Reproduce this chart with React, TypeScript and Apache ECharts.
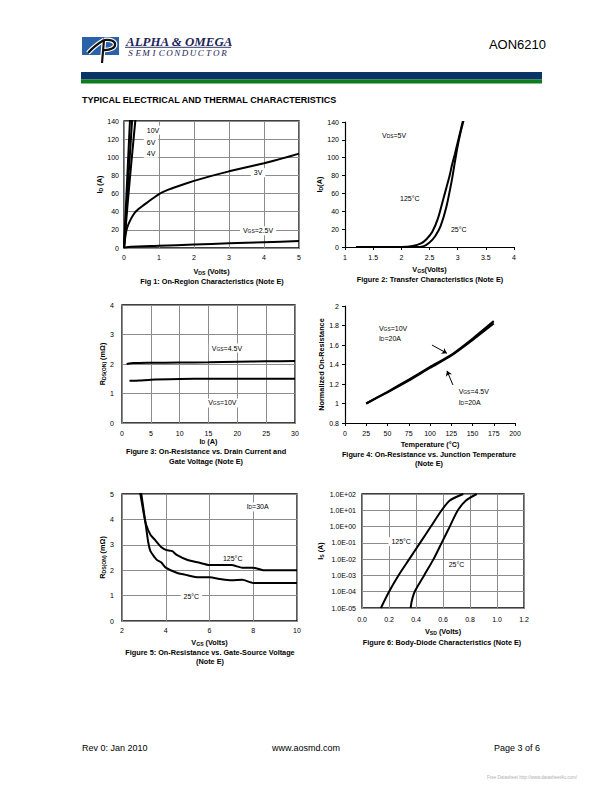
import React, { useEffect, useRef } from "react";
import * as echarts from "echarts";

const FONT = '"Liberation Sans", Arial, Helvetica, sans-serif';
const SERIF = '"Liberation Serif", "Times New Roman", serif';

// ---------- Figure 1: On-Region Characteristics ----------
const fig1Vgs10: number[][] = [[0, 0], [0.06, 50], [0.12, 100], [0.18, 148]];
const fig1Vgs6: number[][] = [[0, 0], [0.08, 50], [0.16, 98], [0.24, 146]];
const fig1Vgs4: number[][] = [[0, 0], [0.1, 47], [0.2, 90], [0.33, 143]];
const fig1Vgs3: number[][] = [[0, 0], [0.02, 7], [0.04, 13], [0.07, 19.5], [0.11, 24.5], [0.16, 29], [0.22, 33.5], [0.31, 39], [0.4, 42.5], [0.5, 45.5], [0.64, 49.5], [0.8, 54], [1, 59.5], [1.25, 64], [1.5, 67.5], [2, 74], [2.5, 79.5], [3, 84.5], [3.5, 89], [4, 93.5], [4.5, 98.5], [5, 104]];
const fig1Vgs25: number[][] = [[0, 0.5], [0.2, 1.5], [1, 2.5], [2, 3.8], [3, 5.1], [4, 6.4], [5, 7.7]];

// ---------- Figure 2: Transfer Characteristics ----------
const fig2T125: number[][] = [[1.2, 0], [2.0, 0], [2.2, 1], [2.35, 4], [2.45, 9], [2.55, 17], [2.65, 32], [2.75, 55], [2.85, 78], [2.9, 92], [2.95, 104], [3.0, 117], [3.05, 130], [3.1, 143]];
const fig2T25: number[][] = [[1.2, 0], [2.25, 0], [2.4, 1], [2.5, 5], [2.6, 12], [2.7, 24], [2.8, 45], [2.9, 76], [2.95, 95], [3.0, 113], [3.05, 128], [3.11, 143]];

// ---------- Figure 3: On-Resistance vs Drain Current ----------
const fig3Vgs45: number[][] = [[0.8, 2.0], [2, 2.03], [5, 2.04], [10, 2.05], [15, 2.06], [20, 2.08], [25, 2.09], [30, 2.1]];
const fig3Vgs10: number[][] = [[1.3, 1.43], [3, 1.44], [5, 1.47], [10, 1.49], [15, 1.5], [20, 1.5], [25, 1.5], [30, 1.5]];

// ---------- Figure 4: On-Resistance vs Junction Temperature ----------
const fig4Vgs10: number[][] = [[25, 1], [50, 1.12], [75, 1.245], [100, 1.375], [125, 1.5], [150, 1.665], [175, 1.845]];
const fig4Vgs45: number[][] = [[25, 1], [50, 1.115], [75, 1.235], [100, 1.365], [125, 1.49], [150, 1.65], [175, 1.82]];

// ---------- Figure 5: On-Resistance vs Gate-Source Voltage ----------
const fig5T25: number[][] = [[2.85, 5.2], [3.0, 4.3], [3.1, 3.7], [3.2, 3.1], [3.3, 2.75], [3.5, 2.5], [3.6, 2.4], [3.8, 2.3], [4, 2.1], [4.5, 1.9], [5, 1.8], [5.5, 1.72], [6, 1.72], [6.5, 1.65], [7, 1.6], [7.5, 1.62], [8, 1.5], [9, 1.5], [10, 1.5]];
const fig5T125: number[][] = [[2.8, 5.2], [3.0, 4.2], [3.1, 3.8], [3.3, 3.4], [3.5, 3.2], [3.8, 2.9], [4, 2.8], [4.3, 2.75], [4.5, 2.6], [5, 2.4], [5.5, 2.3], [6, 2.2], [6.5, 2.2], [7, 2.2], [7.5, 2.1], [8, 2.1], [8.5, 2.0], [9, 2.0], [10, 2.0]];

// ---------- Figure 6: Body-Diode Characteristics ----------
const fig6T125: number[][] = [[0.14, 1e-5], [0.2, 1e-4], [0.27, 1e-3], [0.35, 1e-2], [0.43, 1e-1], [0.51, 1], [0.59, 10], [0.65, 40], [0.75, 100]];
const fig6T25: number[][] = [[0.36, 1e-5], [0.37, 3e-5], [0.39, 1e-4], [0.46, 1e-3], [0.53, 1e-2], [0.59, 1e-1], [0.65, 1], [0.71, 10], [0.77, 40], [0.85, 100]];

const GRID_LINE = "#8c8c8c";

const rich = (size: number, bold: boolean) => ({
  n: { fontSize: size, fontFamily: FONT, fontWeight: bold ? "bold" : "normal", color: "#000" },
  s: { fontSize: size * 0.7, fontFamily: FONT, fontWeight: bold ? "bold" : "normal", color: "#000", verticalAlign: "bottom" },
});

const axisLabel = (margin: number, fmt?: any) => ({
  fontFamily: FONT, fontSize: 7, color: "#000", margin, ...(fmt ? { formatter: fmt } : {}),
});

const nameStyle = { fontFamily: FONT, fontSize: 7.3, fontWeight: "bold", color: "#000", rich: rich(7.3, true) };

function boxedAxis(idx: number, min: number, max: number, interval: number, name: string, gap: number, margin: number, extra: any = {}) {
  return {
    gridIndex: idx, type: "value", min, max, interval,
    axisLine: { show: false }, axisTick: { show: false },
    splitLine: { show: true, lineStyle: { color: GRID_LINE, width: 1 } },
    axisLabel: axisLabel(margin, extra.fmt),
    name, nameLocation: "middle", nameGap: gap, nameTextStyle: nameStyle,
    ...(extra.rotate ? { nameRotate: 90 } : {}),
  };
}

function openAxis(idx: number, min: number, max: number, interval: number, name: string, gap: number, margin: number, rotate = false) {
  return {
    gridIndex: idx, type: "value", min, max, interval,
    axisLine: { show: true, lineStyle: { color: "#000", width: 1.2 } },
    axisTick: { show: true, length: 3, lineStyle: { color: "#000" } },
    splitLine: { show: false },
    axisLabel: axisLabel(margin),
    name, nameLocation: "middle", nameGap: gap, nameTextStyle: nameStyle,
    ...(rotate ? { nameRotate: 90 } : {}),
  };
}

const line = (i: number, data: number[][], extra: any = {}) => ({
  type: "line", xAxisIndex: i, yAxisIndex: i, data, symbol: "none", showSymbol: false,
  smooth: 0.25, silent: true, lineStyle: { color: "#000", width: 2 }, ...extra,
});

const noteLabel = {
  show: true, fontFamily: FONT, fontSize: 7, color: "#000", backgroundColor: "#fff",
  padding: [1, 3, 1, 3], rich: rich(7, false),
};

const note = (coord: number[], text: string, pos: string = "inside", bg = true) => ({
  coord, symbol: "circle", symbolSize: 1, itemStyle: { color: "rgba(0,0,0,0)" },
  label: { ...noteLabel, position: pos, distance: 0, formatter: text, backgroundColor: bg ? "#fff" : "transparent" },
});

const marks = (items: any[]) => ({ silent: true, animation: false, data: items, label: noteLabel });

const sciFmt = (v: number) => {
  const e = Math.round(Math.log10(v));
  return "1.0E" + (e < 0 ? "-" : "+") + String(Math.abs(e)).padStart(2, "0");
};

function txt(x: number, y: number, text: string, size: number, opts: any = {}) {
  return {
    type: "text", x, y, silent: true, scaleX: opts.scaleX || 1,
    style: {
      text, fontSize: size, fontFamily: opts.family || FONT, fontWeight: opts.bold ? "bold" : "normal",
      fontStyle: opts.italic ? "italic" : "normal", fill: opts.color || "#000",
      align: opts.align || "left", verticalAlign: "middle",
    },
  };
}

export default function App() {
  const ref = useRef<HTMLDivElement>(null);
  useEffect(() => {
    if (!ref.current) return;
    const chart = echarts.init(ref.current, null, { renderer: "svg" });

    const boxed = { show: true, borderColor: "#000", borderWidth: 1.3, backgroundColor: "transparent" };
    const grids = [
      { left: 124, top: 121, width: 175, height: 127, ...boxed },
      { left: 345, top: 122, width: 169, height: 125 },
      { left: 122, top: 305, width: 173, height: 118, ...boxed },
      { left: 345, top: 306, width: 170, height: 117 },
      { left: 122, top: 494, width: 175, height: 127, ...boxed },
      { left: 362, top: 494, width: 162, height: 114, ...boxed },
    ];

    const semi = "SEMICONDUCTOR".split("");
    const graphics: any[] = [
      // header logo
      { type: "rect", shape: { x: 82, y: 37, width: 37, height: 18 }, style: { fill: "#2a62aa" }, silent: true },
      { type: "bezierCurve", shape: { x1: 88, y1: 53, x2: 104, y2: 40, cpx1: 94, cpy1: 46 }, style: { stroke: "#fff", lineWidth: 4.5, fill: "none" }, silent: true },
      { type: "bezierCurve", shape: { x1: 104, y1: 40, x2: 103, y2: 50, cpx1: 119, cpy1: 38, cpx2: 119, cpy2: 51 }, style: { stroke: "#fff", lineWidth: 4.5, fill: "none" }, silent: true },
      { type: "line", shape: { x1: 104, y1: 40, x2: 102, y2: 63 }, style: { stroke: "#fff", lineWidth: 4.5 }, silent: true },
      { type: "bezierCurve", shape: { x1: 88, y1: 53, x2: 104, y2: 40, cpx1: 94, cpy1: 46 }, style: { stroke: "#111", lineWidth: 2.2, fill: "none" }, silent: true },
      { type: "bezierCurve", shape: { x1: 104, y1: 40, x2: 103, y2: 50, cpx1: 119, cpy1: 38, cpx2: 119, cpy2: 51 }, style: { stroke: "#111", lineWidth: 2.2, fill: "none" }, silent: true },
      { type: "line", shape: { x1: 104, y1: 40, x2: 102, y2: 63 }, style: { stroke: "#111", lineWidth: 2.2 }, silent: true },
      txt(126, 42, "ALPHA & OMEGA", 12, { family: SERIF, bold: true, italic: true, color: "#1c2458", scaleX: 1.08 }),
      { type: "line", shape: { x1: 125, y1: 47.3, x2: 231, y2: 47.3 }, style: { stroke: "#1c2458", lineWidth: 0.9 }, silent: true },
      ...semi.map((c, i) => txt(130.5 + i * 7.8, 53, c, 9, { family: SERIF, italic: true, color: "#1c2458", align: "center" })),
      txt(546, 44, "AON6210", 13, { align: "right" }),
      { type: "rect", shape: { x: 81, y: 72, width: 461, height: 7.4 }, style: { fill: "#0a3366" }, silent: true },
      { type: "rect", shape: { x: 81, y: 79.4, width: 461, height: 4.1 }, style: { fill: "#0b7d1e" }, silent: true },
      txt(82, 100, "TYPICAL ELECTRICAL AND THERMAL CHARACTERISTICS", 9, { bold: true }),
      // captions
      txt(212, 281.7, "Fig 1: On-Region Characteristics (Note E)", 7.3, { bold: true, align: "center" }),
      txt(430, 279.5, "Figure 2: Transfer Characteristics (Note E)", 7.3, { bold: true, align: "center" }),
      txt(206, 451.7, "Figure 3: On-Resistance vs. Drain Current and", 7.3, { bold: true, align: "center" }),
      txt(206, 461.7, "Gate Voltage (Note E)", 7.3, { bold: true, align: "center" }),
      txt(429, 454.3, "Figure 4: On-Resistance vs. Junction Temperature", 7.3, { bold: true, align: "center" }),
      txt(429, 463.5, "(Note E)", 7.3, { bold: true, align: "center" }),
      txt(210, 652.3, "Figure 5: On-Resistance vs. Gate-Source Voltage", 7.3, { bold: true, align: "center" }),
      txt(210, 661.7, "(Note E)", 7.3, { bold: true, align: "center" }),
      txt(442, 642.3, "Figure 6: Body-Diode Characteristics (Note E)", 7.3, { bold: true, align: "center" }),
      // footer
      txt(82, 748, "Rev 0: Jan 2010", 9),
      txt(306, 748, "www.aosmd.com", 9, { align: "center" }),
      txt(540, 748, "Page 3 of 6", 9, { align: "right" }),
      txt(487, 777, "Free Datasheet http://www.datasheet4u.com/", 4.5, { color: "#b0b0b0" }),
    ];

    const option: any = {
      animation: false,
      backgroundColor: "#fff",
      grid: grids,
      xAxis: [
        boxedAxis(0, 0, 5, 1, "{n|V}{s|DS}{n| (Volts)}", 20, 6),
        openAxis(1, 1, 4, 0.5, "{n|V}{s|GS}{n|(Volts)}", 19, 7),
        boxedAxis(2, 0, 30, 5, "{n|I}{s|D}{n| (A)}", 13, 7),
        openAxis(3, 0, 200, 25, "Temperature (°C)", 18, 7),
        boxedAxis(4, 2, 10, 2, "{n|V}{s|GS}{n| (Volts)}", 18, 6),
        boxedAxis(5, 0, 1.2, 0.2, "{n|V}{s|SD}{n| (Volts)}", 20, 8, { fmt: (v: number) => v.toFixed(1) }),
      ],
      yAxis: [
        boxedAxis(0, 0, 140, 20, "{n|I}{s|D}{n| (A)}", 19, 5, { rotate: true }),
        openAxis(1, 0, 140, 20, "{n|I}{s|D}{n|(A)}", 19, 6, true),
        boxedAxis(2, 0, 4, 1, "{n|R}{s|DS(ON)}{n| (mΩ)}", 14, 8, { rotate: true }),
        openAxis(3, 0.8, 2, 0.2, "Normalized On-Resistance", 19, 6, true),
        boxedAxis(4, 0, 5, 1, "{n|R}{s|DS(ON)}{n| (mΩ)}", 14, 8, { rotate: true }),
        {
          gridIndex: 5, type: "log", logBase: 10, min: 1e-5, max: 100, splitNumber: 7,
          axisLine: { show: false }, axisTick: { show: false }, minorTick: { show: false },
          splitLine: { show: true, lineStyle: { color: GRID_LINE, width: 1 } },
          axisLabel: axisLabel(6, sciFmt),
          name: "{n|I}{s|S}{n| (A)}", nameLocation: "middle", nameGap: 38, nameRotate: 90, nameTextStyle: nameStyle,
        },
      ],
      series: [
        line(0, fig1Vgs10, {
          smooth: false,
          markPoint: marks([
            note([0.55, 130], "10V", "right"),
            note([0.55, 116.5], "6V", "right"),
            note([0.55, 104.4], "4V", "right"),
            note([3.83, 83], "3V"),
            note([3.83, 19], "{n|V}{s|GS}{n|=2.5V}"),
          ]),
        }),
        line(0, fig1Vgs6, { smooth: false }),
        line(0, fig1Vgs4, { smooth: 0.2 }),
        line(0, fig1Vgs3, { smooth: 0.1 }),
        line(0, fig1Vgs25, { smooth: 0.2 }),
        line(1, fig2T125, {
          markPoint: marks([
            note([1.87, 125.4], "{n|V}{s|DS}{n|=5V}"),
            note([2.15, 54.5], "125°C"),
            note([3.02, 20], "25°C"),
          ]),
        }),
        line(1, fig2T25),
        line(2, fig3Vgs45, {
          smooth: 0.2,
          markPoint: marks([
            note([18.2, 2.54], "{n|V}{s|GS}{n|=4.5V}"),
            note([17.4, 0.68], "{n|V}{s|GS}{n|=10V}"),
          ]),
        }),
        line(2, fig3Vgs10, { smooth: 0.2 }),
        line(3, fig4Vgs10, {
          markPoint: marks([
            note([35.8, 1.774], "{n|V}{s|GS}{n|=10V}", "right"),
            note([35.8, 1.667], "{n|I}{s|D}{n|=20A}", "right"),
            note([129.6, 1.118], "{n|V}{s|GS}{n|=4.5V}", "right"),
            note([129.6, 1.01], "{n|I}{s|D}{n|=20A}", "right"),
          ]),
          markLine: {
            silent: true, animation: false, symbol: ["none", "arrow"], symbolSize: 5,
            lineStyle: { color: "#000", width: 1, type: "solid" }, label: { show: false },
            data: [
              [{ coord: [102.3, 1.6] }, { coord: [119.9, 1.515] }],
              [{ coord: [127, 1.19] }, { coord: [120, 1.335] }],
            ],
          },
        }),
        line(3, fig4Vgs45),
        line(4, fig5T25, {
          smooth: 0.2,
          markPoint: marks([
            note([8.2, 4.49], "{n|I}{s|D}{n|=30A}"),
            note([7.06, 2.47], "125°C"),
            note([5.17, 0.98], "25°C"),
          ]),
        }),
        line(4, fig5T125, { smooth: 0.2 }),
        line(5, fig6T125, {
          markPoint: marks([
            note([0.29, 0.12], "125°C"),
            note([0.7, 0.0045], "25°C"),
          ]),
        }),
        line(5, fig6T25),
      ],
      graphic: graphics,
    };
    chart.setOption(option);
    return () => chart.dispose();
  }, []);

  return (
    <div
      ref={ref}
      style={{ position: "absolute", left: 0, top: 0, width: 612, height: 792, background: "#fff" }}
    />
  );
}
